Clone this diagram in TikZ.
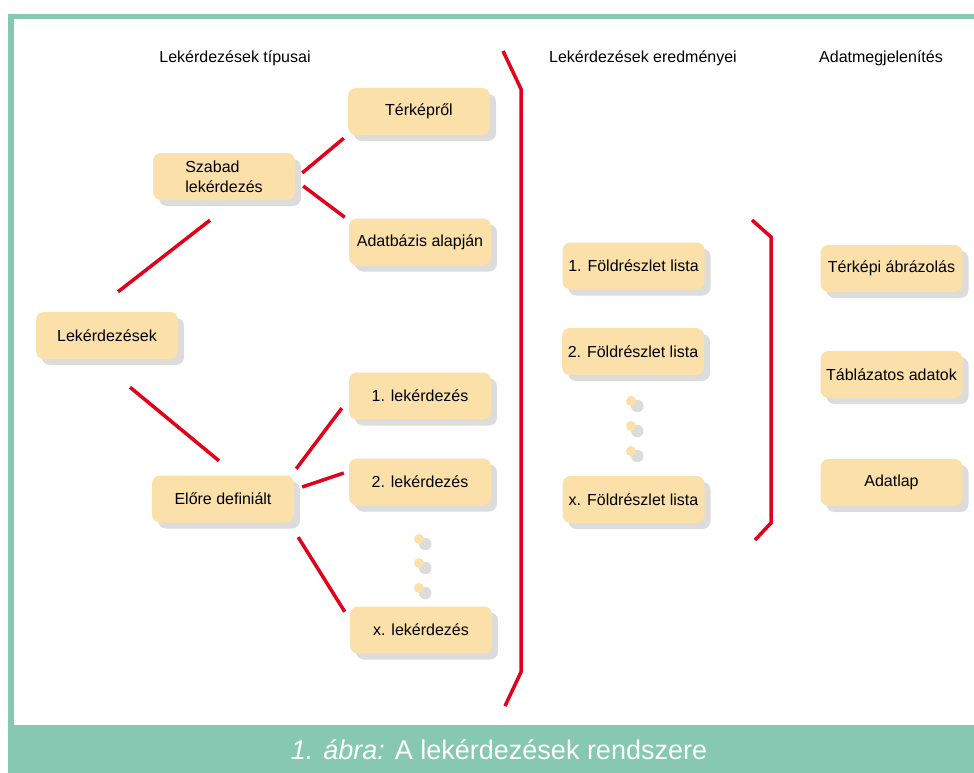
\documentclass[tikz,border=0pt]{standalone}
\usepackage{fontspec}
\setmainfont{Liberation Sans}
\usetikzlibrary{shadows}
\definecolor{framegreen}{HTML}{86C8B1}
\definecolor{boxfill}{HTML}{FBE0A9}
\definecolor{shadowgray}{HTML}{DCDCDC}
\definecolor{linkred}{HTML}{E2001A}
\begin{document}
\begin{tikzpicture}[x=1pt, y=-1pt,
  box/.style={fill=boxfill, rounded corners=8pt, minimum width=142pt, minimum height=47pt,
    inner sep=0pt, align=center, font=\fontsize{16}{20}\selectfont,
    drop shadow={shadow xshift=6pt, shadow yshift=-6pt, fill=shadowgray, opacity=1}},
  dot/.style={circle, fill=boxfill, minimum size=10pt, inner sep=0pt,
    drop shadow={shadow xshift=5pt, shadow yshift=-4pt, shadow scale=1.25, fill=shadowgray, opacity=1}},
  head/.style={font=\fontsize{16}{20}\selectfont},
  link/.style={draw=linkred, line width=3.5pt},
  brace/.style={draw=linkred, line width=3.5pt}]
\useasboundingbox (0,0) rectangle (974,773);
\fill[framegreen] (8,14) rectangle (974,19);
\fill[framegreen] (8,14) rectangle (14,725);
\fill[framegreen] (8,725) rectangle (974,773);
\node[text=white, font=\fontsize{27}{32}\selectfont] (cap) at (499,750) {\textit{1. ábra:} A lekérdezések rendszere};

\node[head] (h1) at (235,58) {Lekérdezések típusai};
\node[head] (h2) at (643,58) {Lekérdezések eredményei};
\node[head] (h3) at (881,58) {Adatmegjelenítés};

\node[box] (lek)    at (107,335.5) {Lekérdezések};
\node[box, align=left] (szabad) at (224,176.5) {Szabad\\lekérdezés};
\node[box] (terk)   at (419,111.5) {Térképről};
\node[box] (adatb)  at (420,242)   {Adatbázis alapján};
\node[box] (elore)  at (223,499)   {Előre definiált};
\node[box] (q1)     at (420,396)   {1. lekérdezés};
\node[box] (q2)     at (420,482)   {2. lekérdezés};
\node[box] (qx)     at (421,630)   {x. lekérdezés};
\foreach \y [count=\i] in {539,563,588}
  \node[dot] (qdot\i) at (419,\y) {};

\node[box] (f1) at (633.5,266)   {1. Földrészlet lista};
\node[box] (f2) at (633,351.5)   {2. Földrészlet lista};
\node[box] (fx) at (633.5,499.5) {x. Földrészlet lista};
\foreach \y [count=\i] in {401,426,451}
  \node[dot] (fdot\i) at (631,\y) {};

\node[box] (terkepi) at (891.5,268.5) {Térképi ábrázolás};
\node[box] (tabl)    at (891.5,374.5) {Táblázatos adatok};
\node[box] (adatlap) at (891.5,482.5) {Adatlap};

\draw[link] ([xshift=11pt,yshift=20pt]lek.north) -- ([xshift=-14pt,yshift=-20pt]szabad.south);
\draw[link] ([xshift=23pt,yshift=-28pt]lek.south) -- ([xshift=-4pt,yshift=14.5pt]elore.north);
\draw[link] ([xshift=7pt,yshift=3.5pt]szabad.east) -- ([xshift=-4pt,yshift=-3pt]terk.south west);
\draw[link] ([xshift=8pt,yshift=-9.5pt]szabad.east) -- ([xshift=-4pt,yshift=1pt]adatb.north west);
\draw[link] ([xshift=2pt,yshift=6.5pt]elore.north east) -- ([xshift=-7pt,yshift=11.5pt]q1.south west);
\draw[link] ([xshift=8pt,yshift=12pt]elore.east) -- ([xshift=-5pt,yshift=9pt]q2.west);
\draw[link] ([xshift=4pt,yshift=-14.5pt]elore.south east) -- ([xshift=-5pt,yshift=-5.5pt]qx.north west);

\draw[brace] (503,51) -- (521,89) -- (521,672) -- (505,706);
\draw[brace] (752,220) -- (771,237) -- (771,523) -- (755,540);
\end{tikzpicture}
\end{document}
